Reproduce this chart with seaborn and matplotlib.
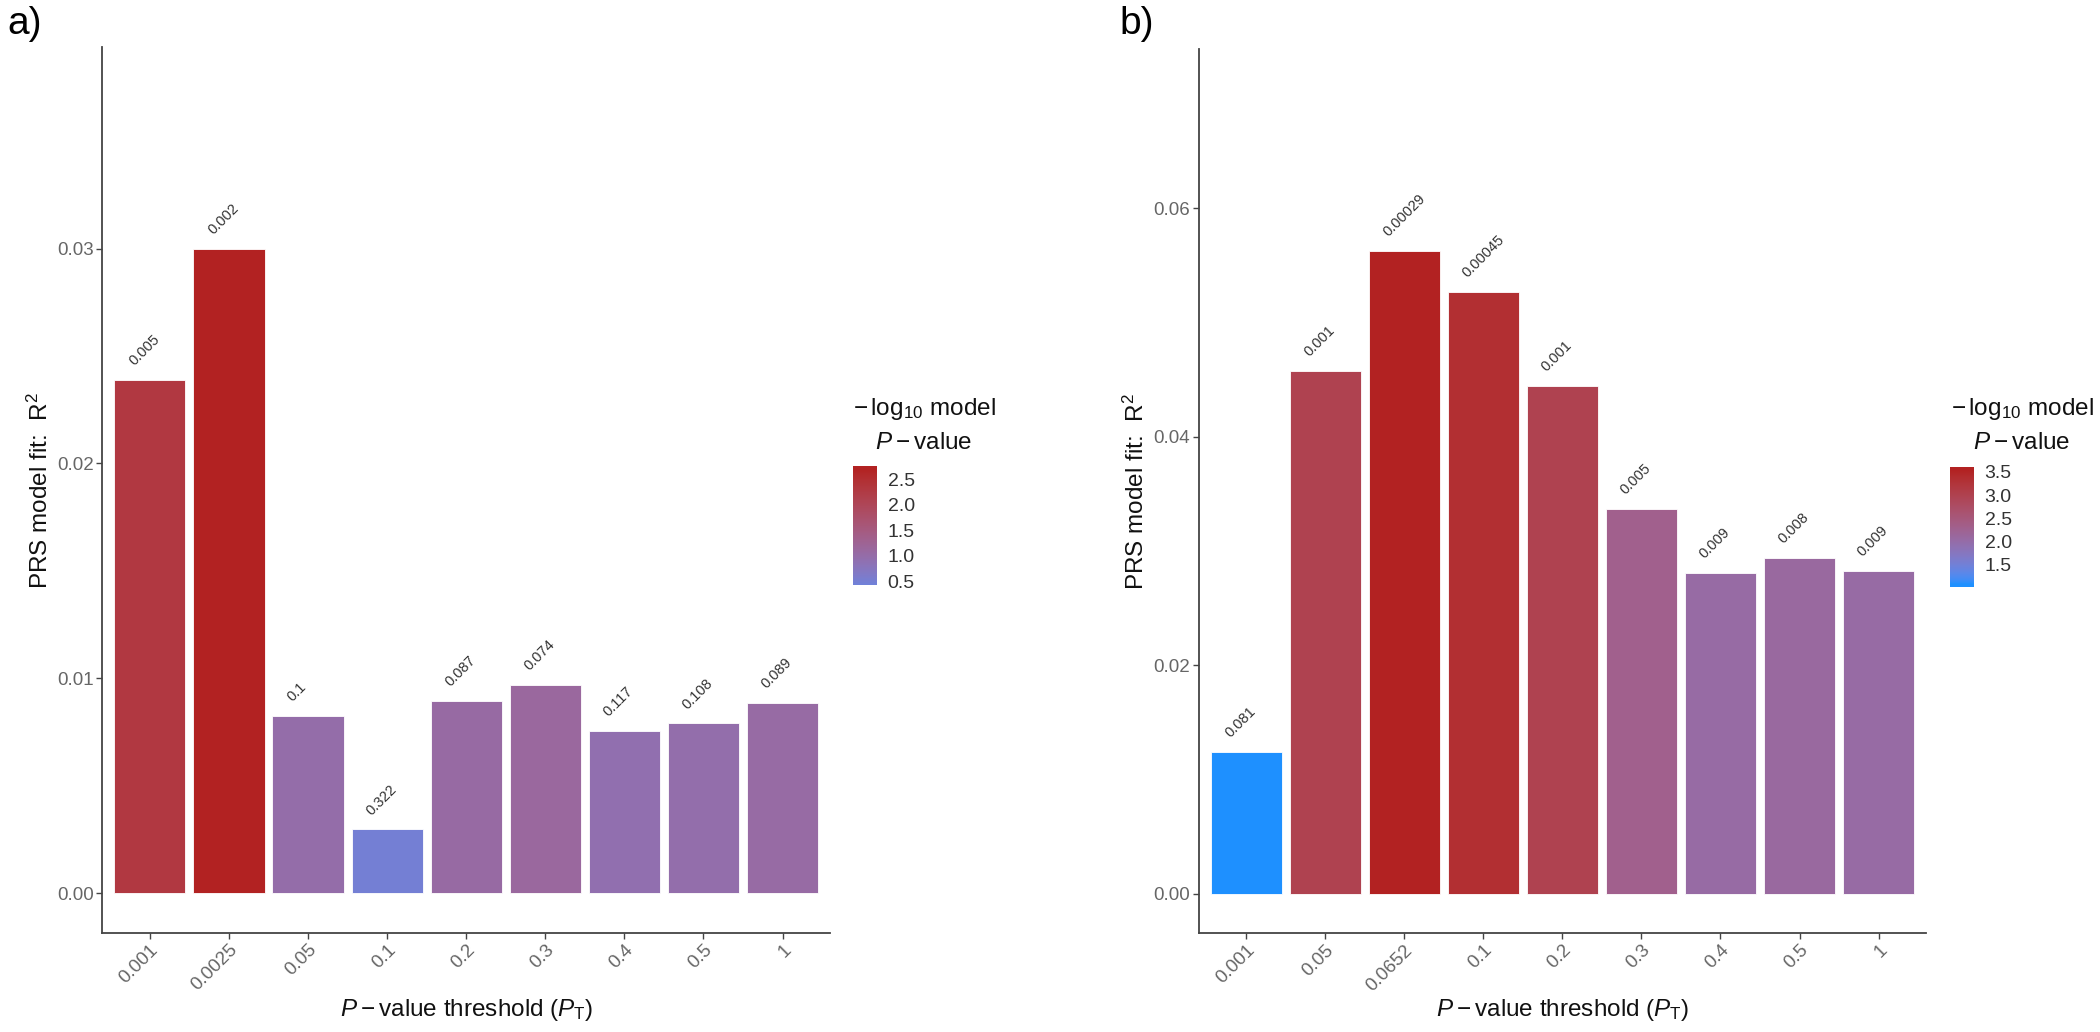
import numpy as np
import pandas as pd
import matplotlib
matplotlib.use("Agg")
import matplotlib.pyplot as plt
import seaborn as sns
from matplotlib.colors import ListedColormap, Normalize
from matplotlib.cm import ScalarMappable

# ---------------- data ----------------
thresholds_a = ["0.001", "0.0025", "0.05", "0.1", "0.2", "0.3", "0.4", "0.5", "1"]
r2_a = [0.0239, 0.0300, 0.00827, 0.00297, 0.00895, 0.00971, 0.00754, 0.0079, 0.00886]
pval_labels_a = ["0.005", "0.002", "0.1", "0.322", "0.087", "0.074", "0.117", "0.108", "0.089"]
neglog10_a = [2.30, 2.70, 1.00, 0.49, 1.06, 1.13, 0.93, 0.97, 1.05]

thresholds_b = ["0.001", "0.05", "0.0652", "0.1", "0.2", "0.3", "0.4", "0.5", "1"]
r2_b = [0.01244, 0.04578, 0.05626, 0.05269, 0.04445, 0.03368, 0.0281, 0.02942, 0.02827]
pval_labels_b = ["0.081", "0.001", "0.00029", "0.00045", "0.001", "0.005", "0.009", "0.008", "0.009"]
neglog10_b = [1.09, 3.00, 3.54, 3.35, 3.00, 2.30, 2.05, 2.10, 2.05]

LOW_COLOR = "#1E90FF"   # dodgerblue
HIGH_COLOR = "#B22222"  # firebrick

# ---------------- Lab gradient helpers ----------------
M = np.array([[0.4124564, 0.3575761, 0.1804375],
              [0.2126729, 0.7151522, 0.0721750],
              [0.0193339, 0.1191920, 0.9503041]])
WHITE = np.array([0.95047, 1.0, 1.08883])


def _f(t):
    d = 6 / 29
    return np.where(t > d ** 3, np.cbrt(t), t / (3 * d * d) + 4 / 29)


def _finv(t):
    d = 6 / 29
    return np.where(t > d, t ** 3, 3 * d * d * (t - 4 / 29))


def rgb_to_lab(c):
    c = np.asarray(c, float)
    lin = np.where(c <= 0.04045, c / 12.92, ((c + 0.055) / 1.055) ** 2.4)
    xyz = (lin @ M.T) / WHITE
    fx_, fy_, fz_ = _f(xyz[..., 0]), _f(xyz[..., 1]), _f(xyz[..., 2])
    return np.stack([116 * fy_ - 16, 500 * (fx_ - fy_), 200 * (fy_ - fz_)], -1)


def lab_to_rgb(lab):
    L, a, b = lab[..., 0], lab[..., 1], lab[..., 2]
    fy_ = (L + 16) / 116
    fx_ = fy_ + a / 500
    fz_ = fy_ - b / 200
    xyz = np.stack([_finv(fx_), _finv(fy_), _finv(fz_)], -1) * WHITE
    lin = np.clip(xyz @ np.linalg.inv(M).T, 0, 1)
    c = np.where(lin <= 0.0031308, 12.92 * lin, 1.055 * lin ** (1 / 2.4) - 0.055)
    return np.clip(c, 0, 1)


LAB_LO = rgb_to_lab(matplotlib.colors.to_rgb(LOW_COLOR))
LAB_HI = rgb_to_lab(matplotlib.colors.to_rgb(HIGH_COLOR))


def make_cmap(lo, hi, ref_lo, ref_hi):
    v = np.linspace(lo, hi, 256)
    t = np.clip((v - ref_lo) / (ref_hi - ref_lo), 0, 1)
    lab = LAB_LO + t[:, None] * (LAB_HI - LAB_LO)
    return ListedColormap(lab_to_rgb(lab))


# ---------------- style ----------------
sns.set_theme(style="white")
plt.rcParams["font.family"] = ["Liberation Sans", "DejaVu Sans"]
plt.rcParams["mathtext.fontset"] = "custom"
plt.rcParams["mathtext.rm"] = "Liberation Sans"
plt.rcParams["mathtext.it"] = "Liberation Sans:italic"
plt.rcParams["mathtext.bf"] = "Liberation Sans:bold"

fig = plt.figure(figsize=(21, 10.32), dpi=100)
fig.patch.set_facecolor("white")

W, H = 2100, 1032


def fx(px):
    return px / W


def fy(py):
    return 1 - py / H


TITLE_FS = 17.5

panels = [
    dict(th=thresholds_a, r2=r2_a, lab=pval_labels_a, nl=neglog10_a, ref_lo=0.0,
         ax_rect=[fx(102.4), fy(932.8), 727.6 / W, (932.8 - 47.4) / H],
         ylim=(-0.00184, 0.03936), yticks=[0.0, 0.01, 0.02, 0.03],
         cb_rect=[fx(853), fy(585), 23.5 / W, 119 / H],
         title_x=924, tag="a)", tag_x=7),
    dict(th=thresholds_b, r2=r2_b, lab=pval_labels_b, nl=neglog10_b, ref_lo=None,
         ax_rect=[fx(1198.7), fy(933.3), 727.3 / W, (933.3 - 49.4) / H],
         ylim=(-0.00345, 0.07388), yticks=[0.0, 0.02, 0.04, 0.06],
         cb_rect=[fx(1950), fy(587), 23.5 / W, 120 / H],
         title_x=2022, tag="b)", tag_x=1119),
]

for p in panels:
    nl = np.array(p["nl"])
    dmin, dmax = nl.min(), nl.max()
    ref_lo = dmin if p["ref_lo"] is None else p["ref_lo"]
    ext = (dmax - dmin) / 38.0
    lo, hi = dmin - ext, dmax + ext
    cmap = make_cmap(lo, hi, ref_lo, dmax)
    norm = Normalize(lo, hi)
    colors = [cmap(norm(v)) for v in nl]

    ax = fig.add_axes(p["ax_rect"])
    df = pd.DataFrame({"threshold": p["th"], "r2": p["r2"]})
    sns.barplot(data=df, x="threshold", y="r2", hue="threshold", order=p["th"],
                hue_order=p["th"], palette=colors, legend=False, width=0.9,
                dodge=False, saturation=1, errorbar=None, ax=ax)
    for patch in ax.patches:
        patch.set_edgecolor("white")
        patch.set_linewidth(0.6)

    for i, (h, lab) in enumerate(zip(p["r2"], p["lab"])):
        ax.annotate(lab, xy=(i, h), xytext=(-11.5, 10), textcoords="offset points",
                    rotation=45, rotation_mode="anchor", ha="left", va="baseline",
                    fontsize=10.5, color="#333333")

    ax.set_xlim(-0.6, 8.6)
    ax.set_ylim(*p["ylim"])
    ax.set_yticks(p["yticks"])
    ax.set_yticklabels([f"{t:.2f}" for t in p["yticks"]])
    ax.set_facecolor("white")
    for s in ["top", "right"]:
        ax.spines[s].set_visible(False)
    for s in ["left", "bottom"]:
        ax.spines[s].set_color("#444444")
        ax.spines[s].set_linewidth(1.3)
    ax.tick_params(axis="both", which="major", length=4, width=1.0, color="#444444",
                   labelsize=13.5, labelcolor="#666666", pad=2,
                   left=True, bottom=True)
    for lbl in ax.get_xticklabels():
        lbl.set_rotation(45)
        lbl.set_ha("right")
        lbl.set_rotation_mode("anchor")

    ax.set_ylabel(r"PRS model fit:  R$^2$", fontsize=TITLE_FS, color="#111111")
    ax.yaxis.set_label_coords(-0.068, 0.5)
    ax.set_xlabel(r"$\mathit{P} - \mathrm{value\ threshold\ (}\mathit{P}_{\mathrm{T}}\mathrm{)}$",
                  fontsize=TITLE_FS, color="#111111")
    ax.xaxis.set_label_coords(0.5, -0.072)

    # colourbar legend
    cax = fig.add_axes(p["cb_rect"])
    cb = fig.colorbar(ScalarMappable(norm=norm, cmap=cmap), cax=cax)
    cb.outline.set_visible(False)
    ticks = [t for t in np.arange(0.5, 4.01, 0.5) if lo <= t <= hi]
    cb.set_ticks(ticks)
    cb.set_ticklabels([f"{t:.1f}" for t in ticks])
    cax.tick_params(which="both", direction="in", length=4.5, width=0.8, color="white",
                    labelsize=14, labelcolor="#333333", pad=8,
                    left=True, right=True, labelleft=False, labelright=True)

    fig.text(fx(p["title_x"]), fy(409), r"$-\,\mathrm{log}_{10}\ \mathrm{model}$",
             ha="center", va="center", fontsize=TITLE_FS, color="#111111")
    fig.text(fx(p["title_x"]), fy(443), r"$\mathit{P} - \mathrm{value}$",
             ha="center", va="center", fontsize=TITLE_FS, color="#111111")

    fig.text(fx(p["tag_x"]), fy(34), p["tag"], ha="left", va="baseline",
             fontsize=28, color="black")

fig.savefig("out.png", dpi=100, facecolor="white")
